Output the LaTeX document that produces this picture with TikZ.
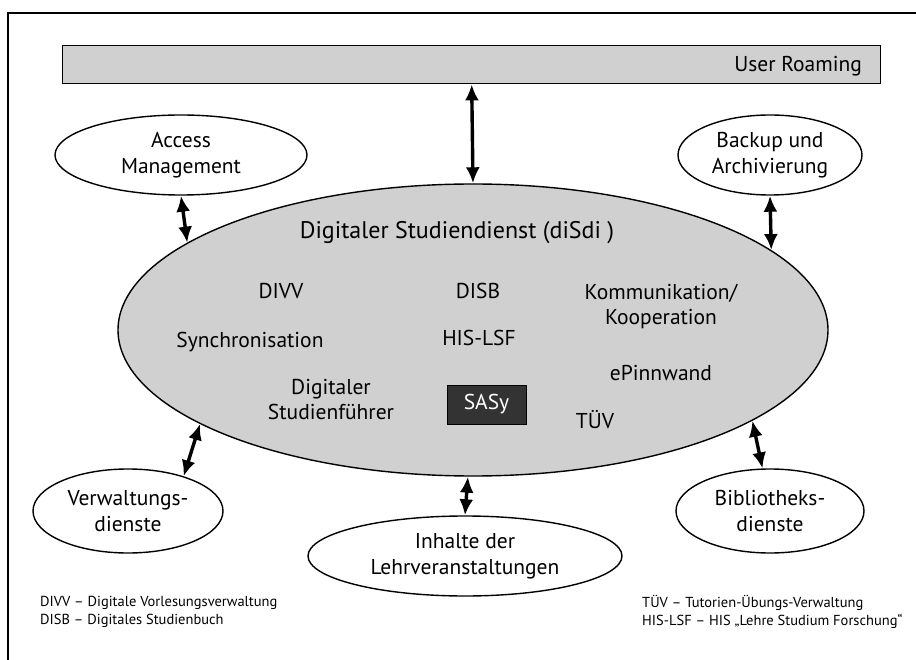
\documentclass[tikz,border=0pt]{standalone}
\usepackage{fontspec}
\setmainfont{PT Sans}
\usetikzlibrary{shapes.geometric,arrows.meta}
\definecolor{fillgray}{RGB}{208,208,208}
\definecolor{sasygray}{RGB}{51,51,51}
\begin{document}
\begin{tikzpicture}[x=1pt,y=-1pt,
  inner/.style={font=\fontsize{21.5}{25}\selectfont, align=center, inner sep=0pt},
  sat/.style={draw, ellipse, line width=1.4pt, fill=white, inner sep=0pt, font=\fontsize{21.5}{26}\selectfont, align=center},
  dbl/.style={line width=3.4pt, {Latex[length=16pt,width=14pt]}-{Latex[length=16pt,width=14pt]}},
  legend/.style={font=\fontsize{14.5}{18}\selectfont, anchor=west, inner sep=0pt}]
\useasboundingbox (0,0) rectangle (916,660);
\fill[white] (0,0) rectangle (916,660);
\draw[line width=2.8pt] (917,13) -- (8,13) -- (8,661);

% User Roaming bar
\node[draw, line width=1.4pt, fill=fillgray, minimum width=818pt, minimum height=38pt, inner sep=0pt, anchor=north west] (bar) at (62,45) {};
\node[inner, anchor=east] (ur) at (862,66) {User Roaming};

% main ellipse
\node[draw, ellipse, fill=fillgray, line width=1.4pt, minimum width=710pt, minimum height=292pt, inner sep=0pt] (main) at (473,330) {};

% satellites
\node[sat, minimum width=252pt, minimum height=80pt] (access) at (181,155) {Access\\Management};
\node[sat, minimum width=184pt, minimum height=80pt] (backup) at (770,155) {Backup und\\Archivierung};
\node[sat, minimum width=190pt, minimum height=84pt] (verw) at (128,511) {Verwaltungs-\\dienste};
\node[sat, minimum width=188pt, minimum height=84pt] (bib) at (770,511) {Bibliotheks-\\dienste};
\node[sat, minimum width=314pt, minimum height=80pt] (inh) at (465,556) {Inhalte der\\Lehrveranstaltungen};

% inner labels
\node[inner, font=\fontsize{24}{28}\selectfont] (title) at (457,233) {Digitaler Studiendienst (diSdi )};
\node[inner] (divv) at (281,291) {DIVV};
\node[inner] (disb) at (478,291) {DISB};
\node[inner] (komm) at (661,306) {Kommunikation/\\Kooperation};
\node[inner] (sync) at (250,342) {Synchronisation};
\node[inner] (hislsf) at (479,338) {HIS-LSF};
\node[inner] (epinn) at (661,373) {ePinnwand};
\node[inner] (dsf) at (331,400) {Digitaler\\Studienführer};
\node[draw, line width=1pt, fill=sasygray, text=white, minimum width=79pt, minimum height=39pt, inner sep=0pt, font=\fontsize{21.5}{25}\selectfont] (sasy) at (486.5,404.5) {SASy};
\node[inner] (tuev) at (595,420) {TÜV};

% connectors
\draw[dbl] (bar.south) -- (main.north);
\draw[dbl] (access.south) -- (main.163);
\draw[dbl] (backup.south) -- (main.15);
\draw[dbl] (main.199) -- (verw.32);
\draw[dbl] (main.342) -- (bib.100);
\draw[dbl] (main.268) -- (inh.north);

% legend
\node[legend] (l1) at (40,603) {DIVV – Digitale Vorlesungsverwaltung};
\node[legend] (l2) at (40,621) {DISB – Digitales Studienbuch};
\node[legend] (r1) at (642,603) {TÜV – Tutorien-Übungs-Verwaltung};
\node[legend] (r2) at (642,621) {HIS-LSF – HIS „Lehre Studium Forschung“};
\end{tikzpicture}
\end{document}
